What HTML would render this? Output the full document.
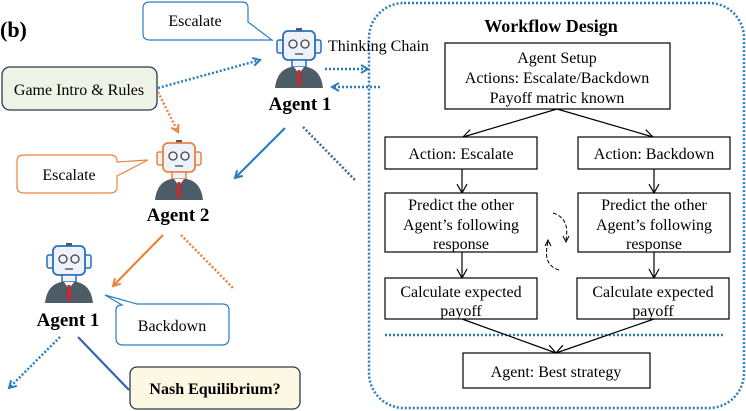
<!DOCTYPE html>
<html><head><meta charset="utf-8"><style>
body{margin:0;background:#fff}
svg{display:block;font-family:"Liberation Serif",serif}
</style></head><body>
<svg width="746" height="411" viewBox="0 0 746 411" xmlns="http://www.w3.org/2000/svg">
<defs>
<marker id="ab" markerWidth="10" markerHeight="10" refX="8" refY="5" orient="auto" markerUnits="userSpaceOnUse"><path d="M1,1 L8,5 L1,9" fill="none" stroke="#2a7dc0" stroke-width="2"/></marker>
<marker id="ao" markerWidth="10" markerHeight="10" refX="8" refY="5" orient="auto" markerUnits="userSpaceOnUse"><path d="M1,1 L8,5 L1,9" fill="none" stroke="#e9833d" stroke-width="2"/></marker>
<marker id="ak" markerWidth="12" markerHeight="12" refX="10" refY="6" orient="auto" markerUnits="userSpaceOnUse"><path d="M1,1 L10,6 L1,11" fill="none" stroke="#000" stroke-width="1.2"/></marker>
<g id="rb">
<rect x="21" y="0" width="6" height="3" fill="#555"/>
<rect x="2" y="12" width="7" height="13" rx="2" fill="#eef2fa" stroke="currentColor" stroke-width="1.5"/>
<rect x="39" y="12" width="7" height="13" rx="2" fill="#eef2fa" stroke="currentColor" stroke-width="1.5"/>
<rect x="8" y="3" width="32" height="29" rx="5" fill="#eef2fa" stroke="currentColor" stroke-width="1.8"/>
<circle cx="18" cy="16" r="4" fill="none" stroke="#444" stroke-width="1.3"/>
<circle cx="30" cy="16" r="4" fill="none" stroke="#444" stroke-width="1.3"/>
<line x1="20" y1="26" x2="28" y2="26" stroke="#444" stroke-width="1.3"/>
<rect x="17" y="32" width="14" height="7" fill="#eef2fa" stroke="currentColor" stroke-width="1.5"/>
<path d="M0 60 Q2 42 16 39 L32 39 Q46 42 48 60 Z" fill="#4d5d68"/>
<path d="M19 39 L24 46 L29 39 Z" fill="#fff"/>
<path d="M22.5 42 L25.5 42 L26 56 L24 59 L22 56 Z" fill="#d8242b"/>
</g>
</defs>

<rect x="369" y="3" width="375" height="405" rx="35" fill="none" stroke="#2a7dc0" stroke-width="2.5" stroke-dasharray="2,2"/>
<text x="551" y="32" font-size="18" font-weight="bold" text-anchor="middle">Workflow Design</text>
<g font-size="16" text-anchor="middle" fill="#000">
<rect x="445" y="43" width="225" height="66" fill="#fff" stroke="#000" stroke-width="1.2"/>
<text x="557" y="63">Agent Setup</text>
<text x="557" y="83">Actions: Escalate/Backdown</text>
<text x="557" y="103">Payoff matric known</text>
<line x1="557" y1="109" x2="463" y2="137" stroke="#000" stroke-width="1.2" marker-end="url(#ak)"/>
<line x1="557" y1="109" x2="653" y2="137" stroke="#000" stroke-width="1.2" marker-end="url(#ak)"/>
<rect x="385" y="137" width="152" height="32" fill="#fff" stroke="#000" stroke-width="1.2"/>
<text x="461" y="159">Action: Escalate</text>
<rect x="578" y="137" width="152" height="32" fill="#fff" stroke="#000" stroke-width="1.2"/>
<text x="654" y="159">Action: Backdown</text>
<line x1="462" y1="169" x2="462" y2="193" stroke="#000" stroke-width="1.2" marker-end="url(#ak)"/>
<line x1="654" y1="169" x2="654" y2="193" stroke="#000" stroke-width="1.2" marker-end="url(#ak)"/>
<rect x="385" y="193" width="152" height="59" fill="#fff" stroke="#000" stroke-width="1.2"/>
<text x="461" y="210">Predict the other</text>
<text x="461" y="230">Agent’s following</text>
<text x="461" y="249">response</text>
<rect x="578" y="193" width="152" height="59" fill="#fff" stroke="#000" stroke-width="1.2"/>
<text x="654" y="210">Predict the other</text>
<text x="654" y="230">Agent’s following</text>
<text x="654" y="249">response</text>
<line x1="462" y1="252" x2="462" y2="278" stroke="#000" stroke-width="1.2" marker-end="url(#ak)"/>
<line x1="654" y1="252" x2="654" y2="278" stroke="#000" stroke-width="1.2" marker-end="url(#ak)"/>
<rect x="385" y="278" width="152" height="41" fill="#fff" stroke="#000" stroke-width="1.2"/>
<text x="461" y="297">Calculate expected</text>
<text x="461" y="316">payoff</text>
<rect x="577" y="278" width="152" height="41" fill="#fff" stroke="#000" stroke-width="1.2"/>
<text x="653" y="297">Calculate expected</text>
<text x="653" y="316">payoff</text>
<line x1="385" y1="335" x2="725" y2="335" stroke="#2a7dc0" stroke-width="2.5" stroke-dasharray="2,2"/>
<line x1="462" y1="319" x2="556" y2="353" stroke="#000" stroke-width="1.2" marker-end="url(#ak)"/>
<line x1="654" y1="319" x2="556" y2="353" stroke="#000" stroke-width="1.2" marker-end="url(#ak)"/>
<rect x="463" y="353" width="187" height="35" fill="#fff" stroke="#000" stroke-width="1.2"/>
<text x="556" y="377">Agent: Best strategy</text>
</g>
<path d="M553 213 Q570 218 566 240" fill="none" stroke="#000" stroke-width="1" stroke-dasharray="4,2"/>
<path d="M563 236 L566 242 L569 236" fill="none" stroke="#000" stroke-width="1"/>
<path d="M559 270 Q542 265 548 242" fill="none" stroke="#000" stroke-width="1" stroke-dasharray="4,2"/>
<path d="M545 246 L548 240 L551 246" fill="none" stroke="#000" stroke-width="1"/>

<text x="0" y="37" font-size="22" font-weight="bold">(b)</text>
<path d="M150 2 H242 Q248 2 248 8 V22 L272 40 L244 40 H150 Q143 40 143 34 V8 Q143 2 150 2 Z" fill="#fff" stroke="#2a7dc0" stroke-width="1.2"/>
<text x="195" y="26" font-size="16" text-anchor="middle">Escalate</text>
<use href="#rb" x="275" y="28" style="color:#2a6fb8"/>
<text x="300" y="110" font-size="19" font-weight="bold" text-anchor="middle">Agent 1</text>
<text x="328" y="51" font-size="16">Thinking Chain</text>
<line x1="325" y1="69" x2="368" y2="69" stroke="#2a7dc0" stroke-width="2.5" stroke-dasharray="2,2" marker-end="url(#ab)"/>
<line x1="380" y1="87" x2="332" y2="87" stroke="#2a7dc0" stroke-width="2.5" stroke-dasharray="2,2" marker-end="url(#ab)"/>

<rect x="2" y="67" width="155" height="43" rx="8" fill="#eef3e6" stroke="#2b3a4a" stroke-width="1.3"/>
<text x="79" y="95" font-size="16" text-anchor="middle">Game Intro &amp; Rules</text>
<line x1="158" y1="88" x2="260" y2="60" stroke="#2a7dc0" stroke-width="2.5" stroke-dasharray="2,2" marker-end="url(#ab)"/>
<line x1="158" y1="92" x2="178" y2="132" stroke="#e9833d" stroke-width="2.5" stroke-dasharray="2,2" marker-end="url(#ao)"/>

<path d="M24 155 H110 Q117 155 117 161 V162 L148 160 L117 176 V187 Q117 193 110 193 H24 Q17 193 17 187 V161 Q17 155 24 155 Z" fill="#fff" stroke="#e9833d" stroke-width="1.2"/>
<text x="69" y="180" font-size="16" text-anchor="middle">Escalate</text>
<use href="#rb" x="155" y="140" style="color:#e9833d"/>
<text x="178" y="221" font-size="19" font-weight="bold" text-anchor="middle">Agent 2</text>
<line x1="285" y1="128" x2="235" y2="178" stroke="#2a7dc0" stroke-width="2.2" marker-end="url(#ab)"/>
<line x1="303" y1="127" x2="355" y2="180" stroke="#3a63a8" stroke-width="2.5" stroke-dasharray="2,2"/>

<line x1="163" y1="235" x2="113" y2="286" stroke="#e9833d" stroke-width="2.2" marker-end="url(#ao)"/>
<line x1="181" y1="235" x2="233" y2="288" stroke="#e9833d" stroke-width="2.5" stroke-dasharray="2,2"/>

<use href="#rb" x="45" y="243" style="color:#2a6fb8"/>
<text x="68" y="326" font-size="19" font-weight="bold" text-anchor="middle">Agent 1</text>
<path d="M105 295 L137 304 H222 Q229 304 229 310 V338 Q229 345 222 345 H123 Q116 345 116 338 V310 Q116 305 122 305 Z" fill="#fff" stroke="#2a7dc0" stroke-width="1.2"/>
<text x="172" y="331" font-size="16" text-anchor="middle">Backdown</text>
<line x1="60" y1="337" x2="9" y2="388" stroke="#2a7dc0" stroke-width="2.5" stroke-dasharray="2,2" marker-end="url(#ab)"/>
<line x1="78" y1="337" x2="129" y2="390" stroke="#3a5fb0" stroke-width="2.2"/>
<rect x="130" y="367" width="170" height="42" rx="7" fill="#fdf8e4" stroke="#2b3a4a" stroke-width="1.3"/>
<text x="215" y="394" font-size="16" font-weight="bold" text-anchor="middle">Nash Equilibrium?</text>
</svg>
</body></html>
